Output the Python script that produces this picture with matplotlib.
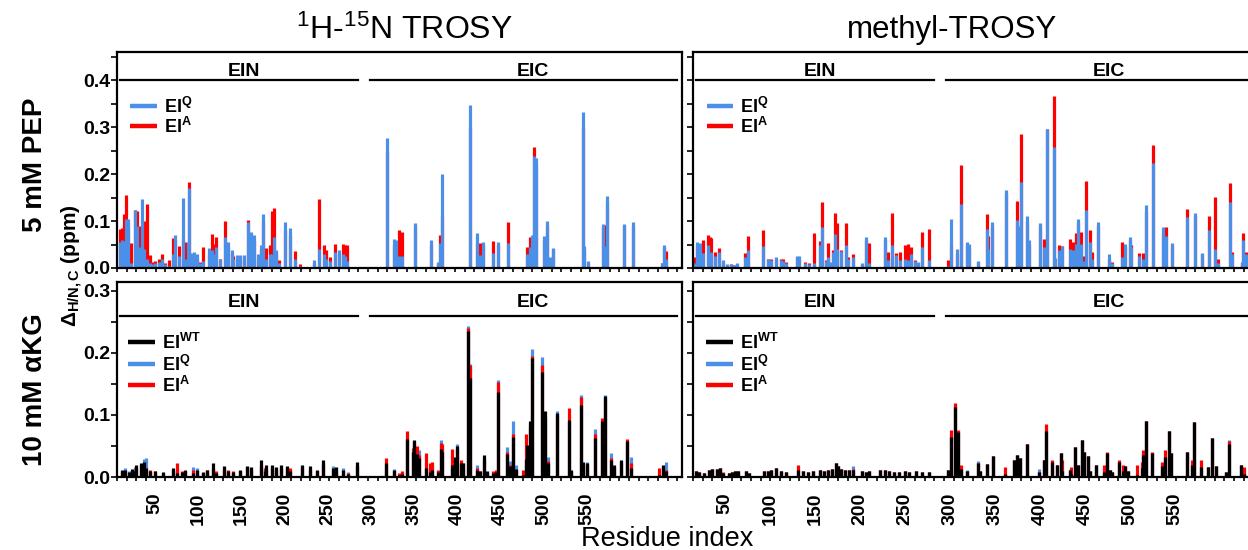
import numpy as np
import matplotlib.pyplot as plt
from matplotlib.ticker import MultipleLocator, FixedLocator

plt.rcParams['font.family'] = ['Liberation Sans', 'DejaVu Sans']
plt.rcParams['mathtext.fontset'] = 'custom'
plt.rcParams['mathtext.rm'] = 'Liberation Sans'
plt.rcParams['mathtext.it'] = 'Liberation Sans:italic'
plt.rcParams['mathtext.bf'] = 'Liberation Sans:bold'

BLUE = '#4a8fe8'
RED = '#ff0000'
BLACK = '#000000'

## 1H-15N TROSY, 5 mM PEP
tl_res = [3, 5, 7, 9, 11, 14, 19, 21, 24, 26, 28, 31, 34, 36, 39, 43, 47, 50, 54, 58,
          60, 64, 68, 70, 73, 75, 77, 80, 83, 86, 89, 95, 98, 100, 103, 107, 112, 115, 119, 120,
          124, 127, 131, 136, 139, 142, 146, 149, 151, 154, 158, 160, 163, 165, 168, 174, 179, 184, 189, 204,
          209, 214, 216, 221, 226, 230, 234, 236, 238,
          280, 287, 289, 292, 295, 309, 325, 332, 334, 337, 365, 373, 376, 379, 389, 394, 405, 425, 428, 430,
          432, 434, 442, 445, 448, 451, 482, 484, 488, 503, 505, 507, 525, 534, 564, 566, 568]
tl_q = [.056, .06, .058, .105, .105, .01, .123, .09, .045, .148, .04, .02, .01, .008, .01, .012, .02, .008, .005, .03,
        .07, .025, .15, .02, .056, .17, .033, .035, .03, .01, .015, .042, .038, .03, .044, .02, .067, .056, .038, .02,
        .028, .028, .028, .099, .077, .07, .03, .049, .116, .02, .03, .03, .067, .038, .01, .099, .086, .02, .005, .018,
        .04, .03, .02, .015, .035, .038, .03, .025, .015,
        .276, .062, .06, .025, .025, .096, .06, .012, .054, .20, .348, .075, .028, .056, .033, .056, .054, .03, .045, .07,
        .238, .235, .068, .10, .024, .043, .333, .047, .015, .093, .047, .154, .094, .099, .011, .049, .02]
tl_a = [.084, .085, .116, .155, .09, .054, .123, .122, .09, .06, .10, .136, .028, .012, .015, .02, .03, .01, .017, .063,
        .06, .047, .06, .056, .05, .184, .03, .03, .02, .012, .045, .03, .072, .052, .065, .02, .10, .045, .03, .026,
        .02, .025, .02, .103, .05, .06, .02, .04, .10, .042, .049, .122, .127, .03, .017, .08, .07, .036, .008, .01,
        .148, .049, .038, .024, .052, .03, .052, .05, .05,
        .25, .05, .03, .081, .077, .09, .05, .01, .07, .11, .30, .054, .054, .05, .058, .05, .097, .045, .065, .06,
        .258, .22, .06, .09, .02, .04, .30, .04, .01, .09, .091, .14, .09, .09, .01, .045, .036]

## methyl-TROSY, 5 mM PEP
tr_res = [1, 4, 7, 10, 16, 18, 19, 23, 27, 31, 35, 39, 42, 46, 54, 57, 72, 78, 81, 86,
          91, 93, 96, 108, 110, 116, 120, 125, 131, 134, 138, 140, 142, 145, 147, 149, 153, 158, 161, 166,
          175, 179, 182, 199, 202, 206, 210, 214, 220, 223, 226, 230, 233, 237, 244,
          264, 267, 273, 278, 284, 286, 295, 304, 305, 310, 324, 335, 336, 340, 346, 348, 359, 363, 367, 374,
          375, 379, 382, 390, 393, 397, 399, 402, 405, 407, 411, 413, 419, 431, 434, 444, 447, 452, 454, 462,
          466, 469, 476, 487, 490, 496, 512, 520, 527, 534, 540, 544, 556, 558, 568, 569, 573]
tr_q = [.01, .056, .054, .033, .048, .033, .035, .025, .035, .016, .008, .009, .007, .01, .024, .038, .046, .019, .017, .024,
        .018, .015, .01, .026, .026, .01, .008, .01, .049, .087, .015, .024, .013, .035, .072, .04, .036, .048, .02, .023,
        .01, .065, .01, .065, .017, .049, .028, .018, .019, .018, .03, .015, .013, .045, .018,
        .005, .104, .041, .136, .056, .051, .015, .084, .04, .099, .166, .102, .09, .184, .111, .06, .096, .045, .297, .258,
        .021, .038, .046, .04, .038, .052, .104, .052, .015, .123, .056, .02, .099, .029, .01, .024, .052, .065, .045, .026,
        .02, .135, .223, .088, .068, .054, .109, .118, .033, .081, .04, .01, .141, .03, .013, .06, .03]
tr_a = [.024, .05, .05, .06, .07, .066, .063, .035, .042, .012, .006, .008, .006, .008, .031, .068, .081, .019, .019, .02,
        .02, .02, .013, .023, .02, .012, .011, .075, .058, .141, .017, .054, .01, .038, .118, .095, .038, .095, .023, .029,
        .008, .06, .054, .06, .035, .118, .031, .035, .049, .052, .045, .017, .01, .077, .083,
        .018, .05, .03, .22, .05, .045, .012, .115, .068, .09, .16, .143, .08, .285, .10, .05, .09, .061, .295, .366,
        .018, .049, .047, .061, .056, .074, .095, .077, .025, .186, .081, .035, .09, .02, .012, .056, .045, .06, .049, .033,
        .033, .12, .263, .074, .088, .05, .126, .11, .03, .111, .152, .02, .18, .035, .01, .074, .035]

## 1H-15N TROSY, 10 mM aKG
bl_res = [5, 8, 12, 16, 19, 20, 25, 28, 30, 34, 39, 48, 58, 62, 67, 70, 79, 83, 89, 93,
          99, 103, 111, 115, 120, 127, 135, 139, 149, 153, 154, 160, 165, 170, 176, 179, 192, 200, 207, 213,
          224, 227, 234, 239, 248,
          279, 287, 292, 295, 300, 306, 308, 311, 313, 320, 324, 326, 332, 335, 337, 347, 350, 352, 356, 358,
          363, 366, 373, 376, 380, 383, 389, 392, 395, 404, 407, 410, 413, 420, 423, 425, 428, 430, 440, 443,
          446, 456, 468, 470, 480, 483, 487, 495, 502, 505, 511, 515, 522, 528, 532, 561, 565, 568]
bl_wt = [.012, .012, .008, .013, .01, .019, .022, .024, .015, .01, .009, .008, .015, .006, .008, .011, .006, .011, .008, .012,
         .023, .006, .017, .01, .008, .011, .018, .016, .027, .01, .02, .02, .016, .02, .018, .01, .02, .017, .011, .027,
         .015, .016, .012, .005, .024,
         .023, .011, .003, .005, .061, .04, .06, .037, .03, .015, .008, .011, .008, .045, .04, .02, .032, .05, .023, .023,
         .235, .16, .012, .01, .036, .009, .006, .008, .137, .037, .018, .065, .013, .004, .029, .051, .091, .192, .169, .106,
         .022, .103, .092, .012, .116, .024, .022, .063, .091, .13, .027, .019, .028, .058, .015, .004, .02, .01]
bl_q = [.01, .014, .01, .011, .016, .015, .02, .029, .03, .008, .007, .006, .012, .01, .006, .008, .016, .014, .006, .01,
        .015, .008, .013, .008, .006, .009, .015, .014, .02, .012, .015, .018, .012, .015, .013, .012, .017, .013, .01, .022,
        .018, .014, .014, .008, .02,
        .02, .013, .004, .006, .06, .038, .058, .035, .044, .014, .01, .012, .009, .06, .045, .018, .03, .054, .02, .022,
        .243, .183, .02, .008, .03, .006, .005, .007, .156, .048, .026, .09, .019, .003, .025, .045, .085, .207, .194, .10,
        .032, .106, .09, .01, .133, .02, .024, .078, .085, .132, .039, .015, .025, .055, .032, .005, .018, .024]
bl_a = [.008, .01, .006, .01, .012, .014, .018, .02, .012, .012, .01, .005, .01, .023, .01, .009, .012, .01, .007, .011,
        .013, .01, .015, .011, .01, .01, .016, .012, .018, .015, .012, .015, .013, .014, .015, .015, .015, .012, .009, .02,
        .012, .01, .01, .006, .018,
        .03, .009, .006, .009, .074, .047, .055, .05, .035, .039, .023, .024, .011, .055, .054, .045, .028, .045, .027, .02,
        .24, .18, .015, .009, .028, .007, .01, .012, .153, .04, .02, .07, .012, .012, .07, .04, .08, .195, .18, .095,
        .025, .10, .111, .008, .129, .018, .02, .07, .095, .125, .03, .017, .022, .062, .022, .015, .016, .012]

## methyl-TROSY, 10 mM aKG
br_res = [3, 6, 11, 17, 20, 25, 28, 31, 37, 40, 44, 47, 55, 58, 74, 78, 81, 86, 91, 96,
          109, 114, 119, 124, 132, 136, 140, 144, 148, 150, 153, 157, 162, 166, 175, 179, 182, 194, 199, 203,
          208, 213, 220, 224, 231, 237, 244,
          264, 267, 271, 274, 277, 284, 295, 297, 304, 311, 323, 332, 335, 339, 346, 358, 363, 365, 372,
          377, 381, 382, 390, 391, 396, 399, 403, 405, 409, 411, 417, 426, 429, 432, 434, 441, 445, 447, 450,
          460, 465, 466, 469, 475, 486, 489, 493, 495, 511, 517, 519, 526, 533, 537, 542, 552, 555, 567, 570]
br_wt = [.01, .008, .006, .011, .013, .013, .015, .006, .006, .008, .009, .009, .01, .006, .01, .01, .011, .015, .009, .008,
         .011, .009, .008, .01, .011, .009, .011, .013, .022, .017, .013, .012, .012, .011, .009, .008, .01, .012, .011, .009,
         .008, .008, .009, .008, .009, .008, .008,
         .011, .065, .113, .073, .013, .01, .023, .01, .021, .034, .005, .027, .035, .03, .053, .008, .027, .074, .024,
         .02, .038, .01, .012, .005, .048, .019, .059, .04, .034, .01, .02, .008, .039, .012, .008, .024, .01, .017, .01,
         .004, .015, .035, .091, .038, .018, .032, .074, .039, .041, .02, .089, .016, .016, .063, .018, .008, .054, .019, .005]
br_q = [.01, .008, .006, .011, .013, .013, .015, .006, .006, .008, .009, .009, .01, .006, .01, .01, .011, .015, .009, .008,
        .011, .009, .008, .01, .011, .009, .011, .013, .022, .017, .013, .012, .012, .017, .009, .008, .01, .012, .011, .009,
        .008, .008, .009, .008, .009, .008, .008,
        .011, .066, .114, .073, .013, .012, .025, .01, .021, .034, .006, .027, .035, .03, .053, .013, .027, .075, .024,
        .02, .038, .012, .012, .006, .048, .019, .059, .04, .034, .01, .02, .009, .039, .012, .008, .024, .011, .017, .01,
        .005, .016, .036, .091, .038, .019, .033, .074, .039, .041, .021, .089, .017, .016, .063, .018, .008, .059, .019, .006]
br_a = [.01, .008, .006, .011, .013, .013, .015, .008, .006, .008, .009, .009, .01, .006, .01, .01, .011, .015, .009, .008,
        .02, .009, .008, .01, .011, .009, .011, .013, .022, .017, .013, .012, .012, .013, .009, .008, .01, .012, .011, .009,
        .008, .008, .009, .008, .009, .008, .008,
        .011, .075, .12, .075, .019, .01, .023, .01, .021, .034, .016, .027, .035, .03, .053, .008, .027, .086, .027,
        .02, .038, .027, .012, .016, .048, .019, .059, .04, .034, .01, .02, .019, .041, .012, .008, .027, .019, .017, .01,
        .019, .024, .044, .091, .04, .024, .044, .074, .039, .041, .027, .089, .027, .016, .063, .018, .008, .058, .019, .016]

ein_span = [3, 250]
eic_span = [262, 580]
ticks = [50, 100, 150, 200, 250, 300, 350, 400, 450, 500, 550]

W, H = 1248, 550
fig = plt.figure(figsize=(W / 100, H / 100), dpi=100)


def px_axes(x0, y0, x1, y1):
    return fig.add_axes([x0 / W, 1 - y1 / H, (x1 - x0) / W, (y1 - y0) / H])


ax_tl = px_axes(117, 52, 682, 268)
ax_tr = px_axes(693, 52, 1258, 268)
ax_bl = px_axes(117, 282, 682, 477)
ax_br = px_axes(693, 282, 1258, 477)

LW = 2.3
ax_tl.vlines(tl_res, 0, tl_a, color=RED, lw=LW)
ax_tl.vlines(tl_res, 0, tl_q, color=BLUE, lw=LW)
ax_tr.vlines(tr_res, 0, tr_a, color=RED, lw=LW)
ax_tr.vlines(tr_res, 0, tr_q, color=BLUE, lw=LW)
for a, res, wt, q, aa in [(ax_bl, bl_res, bl_wt, bl_q, bl_a), (ax_br, br_res, br_wt, br_q, br_a)]:
    a.vlines(res, 0, q, color=BLUE, lw=LW)
    a.vlines(res, 0, aa, color=RED, lw=LW)
    a.vlines(res, 0, wt, color=BLACK, lw=LW)


def legend(ax, entries, x0, x1, ys):
    for (lab, col), y in zip(entries, ys):
        ax.plot([x0, x1], [y, y], color=col, lw=3.2, transform=ax.transAxes, solid_capstyle='butt')
        ax.text(x1 + 0.012, y - 0.005, lab, transform=ax.transAxes, va='center', ha='left', fontsize=13)


lq = r'$\mathbf{EI^{Q}}$'
la = r'$\mathbf{EI^{A}}$'
lw_ = r'$\mathbf{EI^{WT}}$'
legend(ax_tl, [(lq, BLUE), (la, RED)], 0.023, 0.071, [0.75, 0.658])
legend(ax_tr, [(lq, BLUE), (la, RED)], 0.025, 0.071, [0.75, 0.658])
legend(ax_bl, [(lw_, BLACK), (lq, BLUE), (la, RED)], 0.019, 0.067, [0.69, 0.58, 0.47])
legend(ax_br, [(lw_, BLACK), (lq, BLUE), (la, RED)], 0.023, 0.071, [0.69, 0.58, 0.47])

for ax, top, ybr, ytx in [(ax_tl, 0.46, 0.40, 0.418), (ax_tr, 0.46, 0.40, 0.418),
                          (ax_bl, 0.3145, 0.26, 0.281), (ax_br, 0.3145, 0.26, 0.281)]:
    ax.set_xlim(0, 585)
    ax.set_ylim(0, top)
    ax.plot(ein_span, [ybr, ybr], color='black', lw=1.6)
    ax.plot(eic_span, [ybr, ybr], color='black', lw=1.6)
    ax.text(132, ytx, 'EIN', ha='center', va='center', fontsize=14, fontweight='bold')
    ax.text(431, ytx, 'EIC', ha='center', va='center', fontsize=14, fontweight='bold')
    for s in ax.spines.values():
        s.set_linewidth(1.6)
    ax.yaxis.set_major_locator(MultipleLocator(0.1))
    ax.yaxis.set_minor_locator(MultipleLocator(0.05))
    ax.xaxis.set_minor_locator(MultipleLocator(10))
    ax.tick_params(axis='y', which='both', direction='out', length=4, width=1.2)
    ax.tick_params(axis='x', which='minor', direction='out', length=3, width=1.2)
    ax.tick_params(axis='x', which='major', length=0, pad=11)

# tick labels sit where the original figure put them
for ax, x0, step in [(ax_tl, 111.8, 0.864), (ax_tr, 680.0, 0.900),
                     (ax_bl, 111.8, 0.864), (ax_br, 680.0, 0.900)]:
    left = 117 if ax in (ax_tl, ax_bl) else 693
    pos = [(x0 + step * t - left) / 0.966 for t in ticks]
    ax.xaxis.set_major_locator(FixedLocator(pos))
    if ax in (ax_bl, ax_br):
        ax.set_xticklabels([str(t) for t in ticks], rotation=90, fontsize=14, fontweight='bold')
    else:
        ax.set_xticklabels([])

for ax in (ax_tl, ax_bl):
    ax.yaxis.set_major_formatter(plt.FuncFormatter(lambda v, p: f'{v:.1f}'))
    for lab in ax.get_yticklabels():
        lab.set_fontweight('bold')
    ax.tick_params(axis='y', labelsize=14, pad=1)
for ax in (ax_tr, ax_br):
    ax.set_yticklabels([])

fig.text(404 / W, 1 - 30 / H, r'$^{1}$H-$^{15}$N TROSY', ha='center', va='center', fontsize=23)
fig.text(952 / W, 1 - 30 / H, 'methyl-TROSY', ha='center', va='center', fontsize=22.5)
fig.text(35 / W, 1 - 165 / H, '5 mM PEP', rotation=90, ha='center', va='center', fontsize=20, fontweight='bold')
fig.text(35 / W, 1 - 390 / H, '10 mM αKG', rotation=90, ha='center', va='center', fontsize=20, fontweight='bold')
fig.text(72 / W, 1 - 266 / H, r'$\mathbf{\Delta_{H/N,C}}$ (ppm)', rotation=90, ha='center', va='center',
         fontsize=15, fontweight='bold')
fig.text(667 / W, 1 - 539 / H, 'Residue index', ha='center', va='center', fontsize=19.5)

plt.savefig('out.png', dpi=100)
